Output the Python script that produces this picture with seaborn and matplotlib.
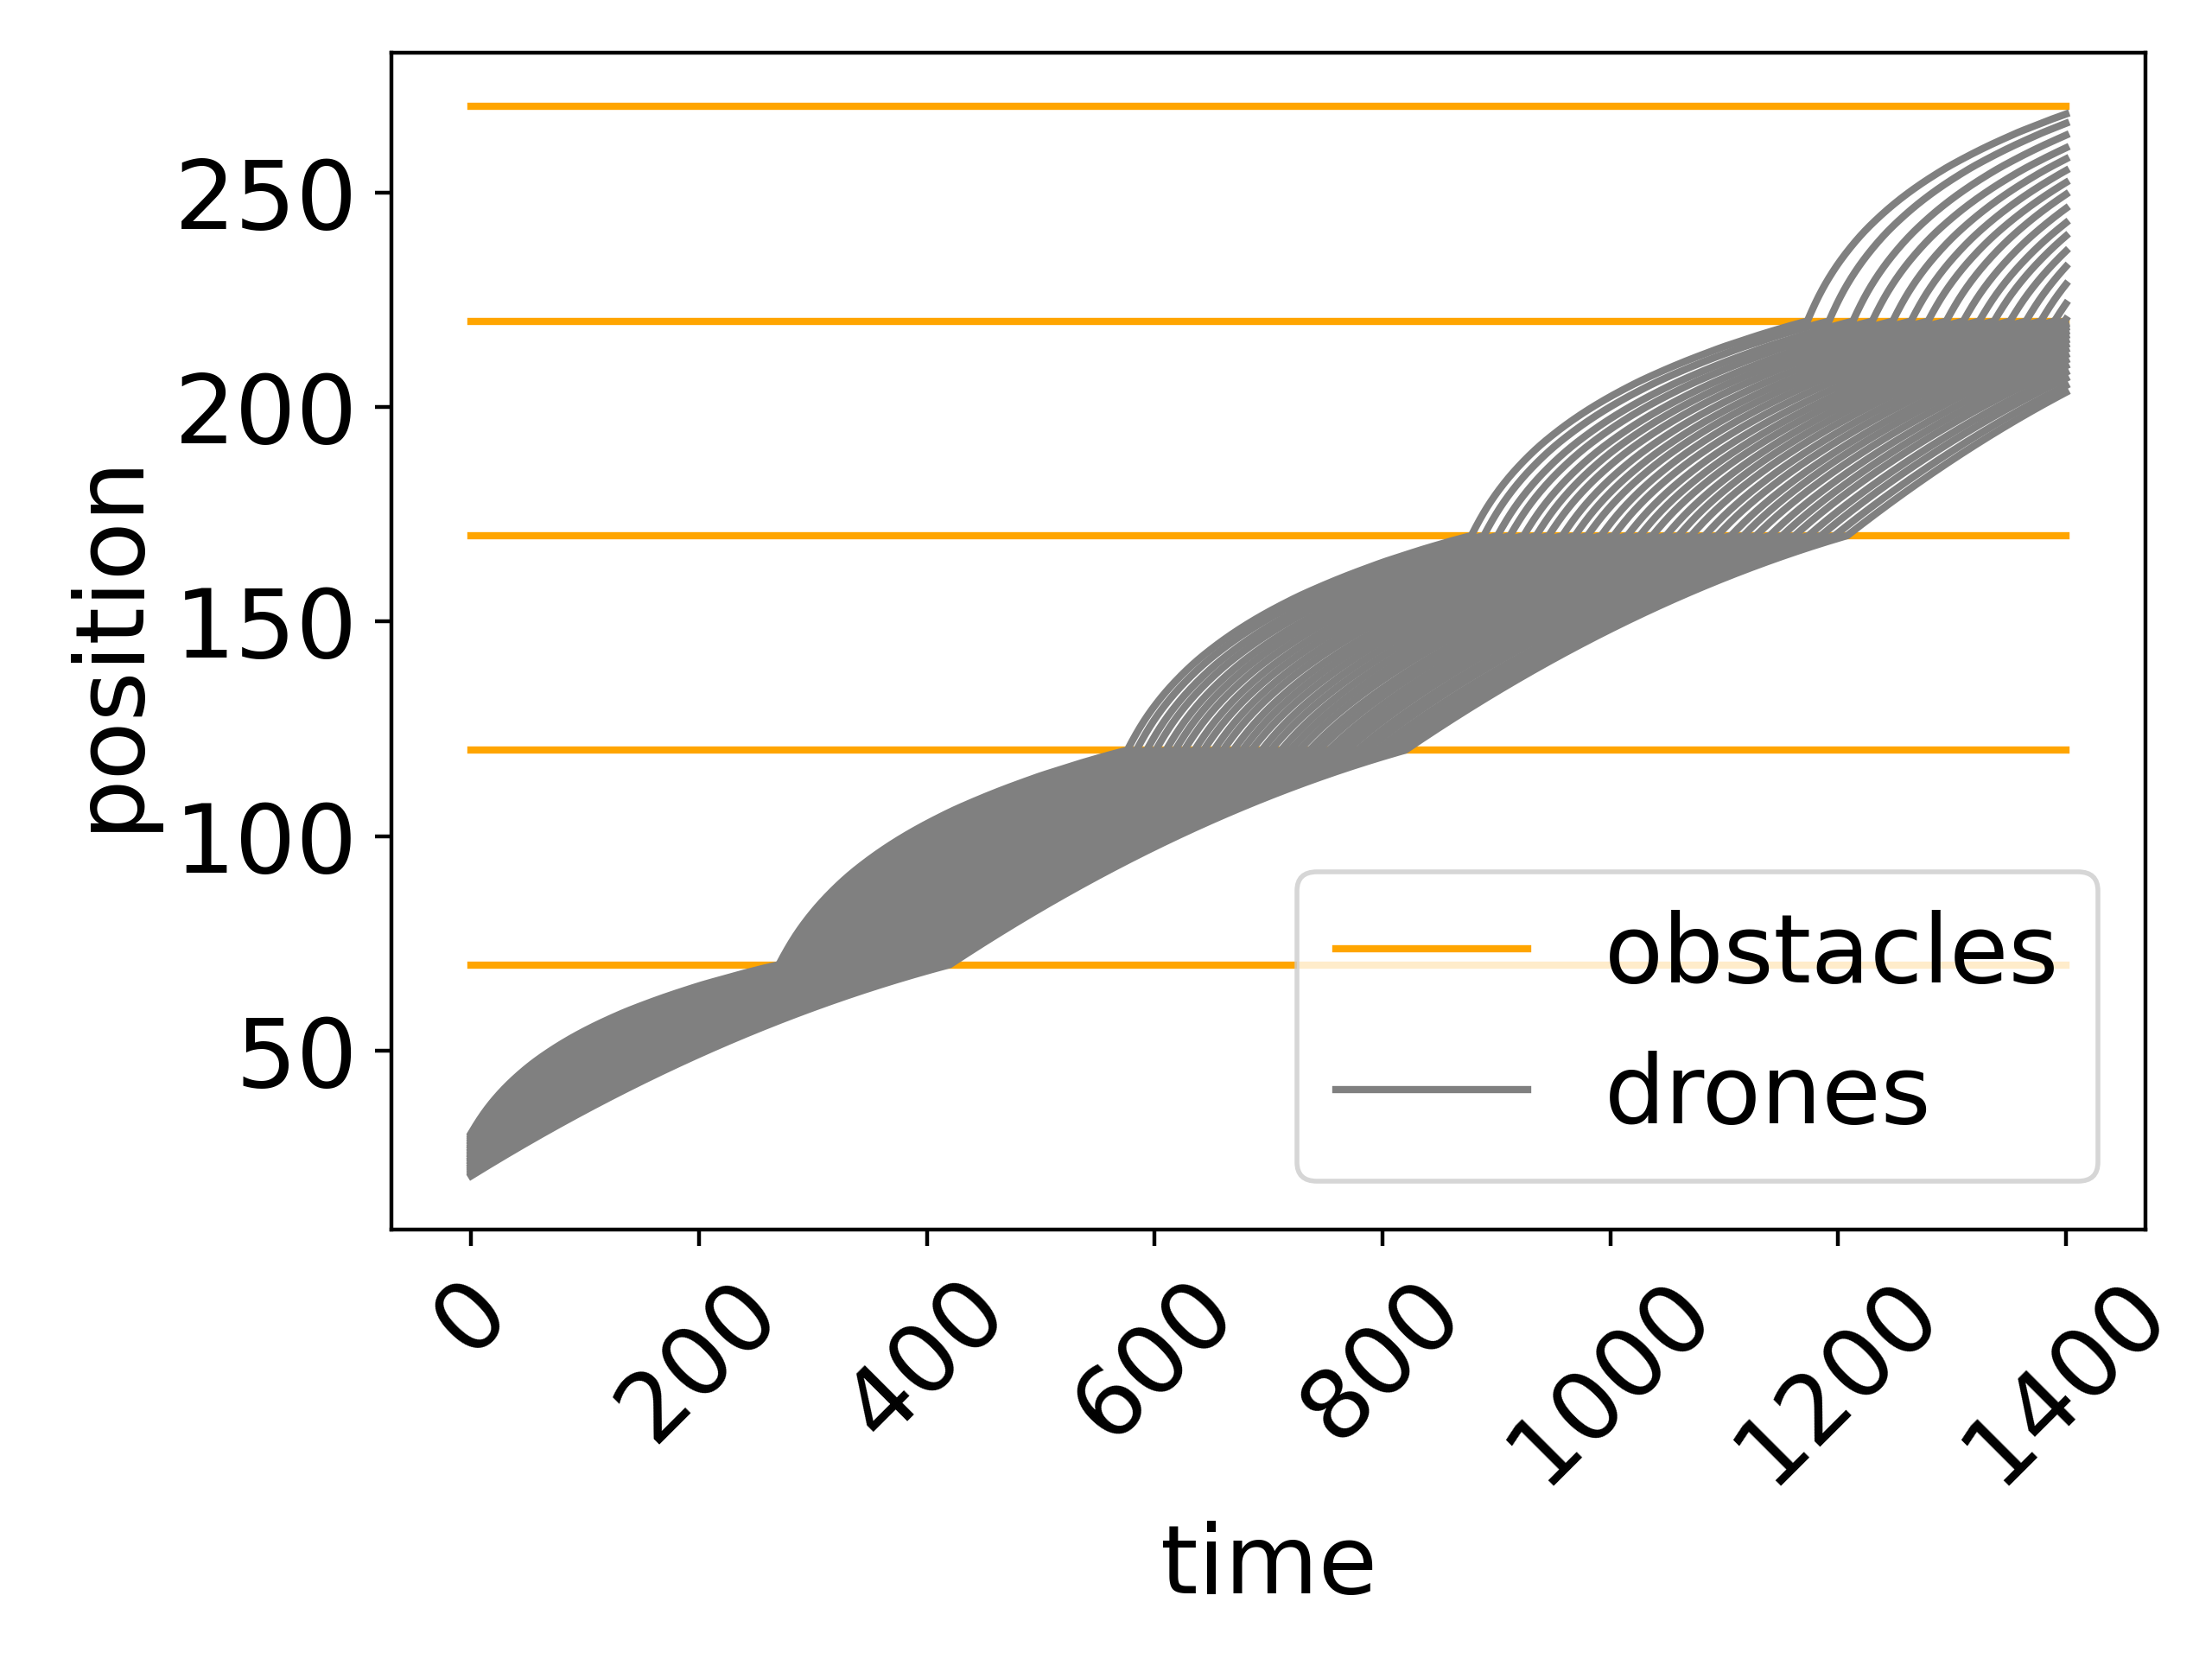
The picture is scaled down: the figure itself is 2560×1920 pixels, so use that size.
import numpy as np
import pandas as pd
import matplotlib
matplotlib.use("Agg")
import matplotlib.pyplot as plt
import seaborn as sns
from matplotlib.lines import Line2D

plt.rcParams['font.size'] = 20

# obstacle heights
obstacle_levels = [70, 120, 170, 220, 270]
obstacle_span = [0, 1400]

# drone start positions at t=0 (top drone first)
start_pos = [30.8, 30.5, 30.1, 29.8, 29.4, 29.1, 28.7, 28.4, 28.0, 27.7,
             27.4, 27.0, 26.7, 26.3, 26.0, 25.6, 25.3, 24.9, 24.6, 24.3,
             23.9, 23.6, 23.2, 22.9, 22.5, 22.2, 21.8, 21.5, 21.1, 20.8]

hit_70 = [270, 275, 280, 285, 291, 296, 301, 306, 311, 316,
          322, 327, 332, 337, 342, 347, 353, 358, 363, 368,
          373, 378, 384, 389, 394, 399, 404, 409, 415, 420]
hit_120 = [576, 584, 593, 601, 610, 618, 626, 635, 643, 652,
           660, 669, 677, 685, 694, 702, 711, 719, 727, 736,
           744, 753, 761, 769, 778, 786, 795, 803, 811, 820]
hit_170 = [878, 889, 901, 912, 924, 935, 946, 958, 969, 980,
           992, 1003, 1015, 1026, 1037, 1049, 1060, 1071, 1083, 1094,
           1106, 1117, 1128, 1140, 1151, 1162, 1174, 1185, 1197, 1208]
hit_220 = [1173, 1192, 1213, 1230, 1248, 1264, 1279, 1295, 1310, 1324,
           1337, 1351, 1365, 1378, 1390, 1399, 1410, 1420, 1431, 1441,
           1452, 1462, 1472, 1483, 1493, 1503, 1514, 1524, 1535, 1545]
# estimated arrival at 270 for the drones already past 220 (after the plot ends)
hit_270 = [1420, 1442, 1468, 1495, 1514, 1534, 1552, 1566, 1584, 1603,
           1616, 1627, 1631, 1639, 1658, 1669]

# climb shape between two obstacles: fraction of gap vs fraction of time
climb_s = [0, 0.05, 0.1, 0.15, 0.2, 0.25, 0.3, 0.35, 0.4, 0.45, 0.5,
           0.55, 0.6, 0.65, 0.7, 0.75, 0.8, 0.85, 0.9, 0.95, 1.0]
# leading (upper) drones bend hard, trailing ones climb almost steadily
lead_f = [0, 0.140, 0.249, 0.338, 0.414, 0.479, 0.537, 0.589, 0.636, 0.679, 0.719,
          0.755, 0.789, 0.821, 0.851, 0.880, 0.906, 0.932, 0.956, 0.979, 1.0]
trail_f = [0, 0.069, 0.136, 0.201, 0.264, 0.325, 0.384, 0.441, 0.496, 0.549, 0.600,
           0.649, 0.696, 0.741, 0.784, 0.825, 0.864, 0.901, 0.936, 0.969, 1.0]
lead_weight = [1.0, 0.97, 0.93, 0.9, 0.86, 0.83, 0.79, 0.76, 0.72, 0.69,
               0.66, 0.62, 0.59, 0.55, 0.52, 0.48, 0.45, 0.41, 0.38, 0.34,
               0.31, 0.28, 0.24, 0.21, 0.17, 0.14, 0.1, 0.07, 0.03, 0.0]


def smooth_curve(xk, yk, x):
    # monotone cubic through the read profile points, so the climbs stay round
    xk = np.asarray(xk, float)
    yk = np.asarray(yk, float)
    h = np.diff(xk)
    d = np.diff(yk) / h
    m = np.zeros_like(yk)
    for i in range(1, len(xk) - 1):
        if d[i - 1] * d[i] > 0:
            w1 = 2 * h[i] + h[i - 1]
            w2 = h[i] + 2 * h[i - 1]
            m[i] = (w1 + w2) / (w1 / d[i - 1] + w2 / d[i])
    m[0] = max(((2 * h[0] + h[1]) * d[0] - h[0] * d[1]) / (h[0] + h[1]), 0)
    m[-1] = max(((2 * h[-1] + h[-2]) * d[-1] - h[-1] * d[-2]) / (h[-1] + h[-2]), 0)
    i = np.clip(np.searchsorted(xk, x, side='right') - 1, 0, len(xk) - 2)
    t = (x - xk[i]) / h[i]
    h00 = 2 * t**3 - 3 * t**2 + 1
    h10 = t**3 - 2 * t**2 + t
    h01 = -2 * t**3 + 3 * t**2
    h11 = t**3 - t**2
    return h00 * yk[i] + h10 * h[i] * m[i] + h01 * yk[i + 1] + h11 * h[i] * m[i + 1]


time = np.arange(0, 1400.5, 0.5)

rows = []
for k in range(len(start_pos)):
    knots = [0, hit_70[k], hit_120[k], hit_170[k], hit_220[k]]
    levels = [start_pos[k], 70, 120, 170, 220]
    if k < len(hit_270):
        knots.append(hit_270[k])
        levels.append(270)
    knots = np.array(knots, dtype=float)
    levels = np.array(levels, dtype=float)
    seg = np.clip(np.searchsorted(knots, time, side='right') - 1, 0, len(knots) - 2)
    s = (time - knots[seg]) / (knots[seg + 1] - knots[seg])
    w = lead_weight[k]
    frac = w * smooth_curve(climb_s, lead_f, s) + (1 - w) * smooth_curve(climb_s, trail_f, s)
    pos = levels[seg] + (levels[seg + 1] - levels[seg]) * frac
    rows.append(pd.DataFrame({'time': time, 'position': pos, 'drone': k}))
drones = pd.concat(rows, ignore_index=True)

obstacles = pd.DataFrame({
    'time': np.tile(obstacle_span, len(obstacle_levels)),
    'position': np.repeat(obstacle_levels, len(obstacle_span)),
    'obstacle': np.repeat(range(len(obstacle_levels)), len(obstacle_span)),
})

fig, ax = plt.subplots(figsize=(6.4, 4.8))
sns.lineplot(data=obstacles, x='time', y='position', units='obstacle',
             estimator=None, color='orange', lw=1.5, legend=False, ax=ax)
sns.lineplot(data=drones, x='time', y='position', units='drone',
             estimator=None, color='gray', lw=1.5, legend=False, ax=ax)

ax.set_xticks(range(0, 1401, 200))
ax.set_yticks(range(50, 251, 50))
ax.set_xlabel('time')
ax.set_ylabel('position')
plt.xticks(rotation=45)
handles = [Line2D([], [], color='orange', lw=1.5, label='obstacles'),
           Line2D([], [], color='gray', lw=1.5, label='drones')]
ax.legend(handles=handles, loc='lower right')
plt.subplots_adjust(left=0.177, right=0.970, top=0.968, bottom=0.259)
plt.savefig('out.png', dpi=400)
